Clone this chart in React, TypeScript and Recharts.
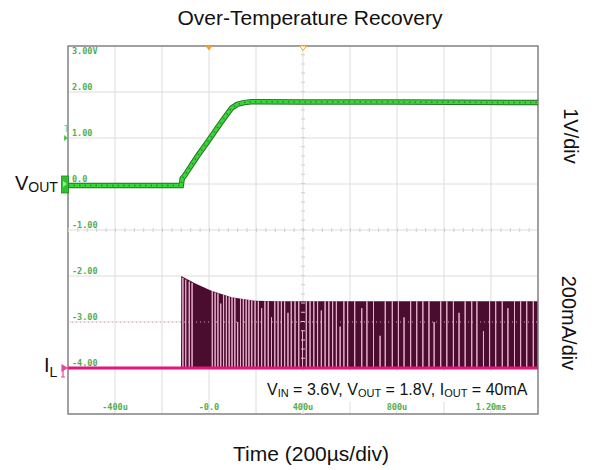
import React from "react";
import {
  ComposedChart,
  Line,
  Area,
  XAxis,
  YAxis,
  CartesianGrid,
  ReferenceArea,
  ReferenceDot,
  ReferenceLine,
} from "recharts";

// scope screen: time in µs (200µs/div), vertical in divisions (scope labels)
const xTicks = [-600, -400, -200, 0, 200, 400, 600, 800, 1000, 1200, 1400];
const yTicks = [-5, -4, -3, -2, -1, 0, 1, 2, 3];
const xTickLabels: Record<string, string> = {
  "-400": "-400u",
  "0": "-0.0",
  "400": "400u",
  "800": "800u",
  "1200": "1.20ms",
};
const yTickLabels: Record<string, string> = {
  "3": "3.00V",
  "2": "2.00",
  "1": "1.00",
  "0": "0.0",
  "-1": "-1.00",
  "-2": "-2.00",
  "-3": "-3.00",
  "-4": "-4.00",
};

// VOUT trace
const voutTime = [-600, -118, -114, -104, -50, 0, 50, 96, 120, 150, 180, 400, 800, 1400];
const voutLevel = [-0.03, -0.03, 0.12, 0.18, 0.6, 0.96, 1.33, 1.65, 1.73, 1.77, 1.79, 1.78, 1.78, 1.77];

// IL burst envelope (ground at -4 div)
const ilBase = -4;
const ilEnvTime = [-119, -118, -60, 10, 96, 195, 300, 1400];
const ilEnvTop = [-4, -2.0, -2.16, -2.32, -2.46, -2.54, -2.55, -2.55];

// lighter switching pulses seen inside the burst
const ilPulseTime = [
  -111, -99, -84, -72, 14, 26, 38, 50, 62, 74, 86, 98, 110, 122, 134, 146, 158, 170, 182, 196,
  210, 224, 238, 252, 266, 280, 294, 308, 322, 336, 350, 366, 382, 398, 414, 430, 446, 462, 478,
  494, 510, 526, 542, 558, 574, 590, 620, 650, 672, 700, 728, 750, 780, 806, 830, 858, 884, 910,
  936, 958, 986, 1012, 1040, 1064, 1090, 1118, 1140, 1168, 1194, 1220, 1248, 1272, 1300, 1326,
  1352, 1380,
];
const ilPulseTop = [
  -2.04, -2.08, -2.12, -2.15, -2.33, -2.36, -2.38, -2.6, -2.41, -2.43, -2.45, -2.46, -2.48, -3.0,
  -2.49, -2.5, -2.51, -2.52, -2.53, -2.54, -2.55, -2.7, -2.55, -2.55, -2.9, -2.55, -2.55, -2.55,
  -2.55, -2.8, -2.55, -2.55, -2.55, -3.2, -2.55, -2.55, -2.55, -2.55, -2.75, -2.55, -2.55, -2.55,
  -2.55, -3.1, -2.55, -2.55, -2.55, -2.7, -2.55, -2.55, -3.3, -2.55, -2.55, -2.55, -2.9, -2.55,
  -2.55, -2.55, -2.55, -3.0, -2.55, -2.55, -2.55, -2.8, -2.55, -2.55, -2.55, -3.2, -2.55, -2.55,
  -2.55, -2.7, -2.55, -2.55, -2.55, -2.55,
];

const voutData = voutTime.map((t, i) => ({ t, v: voutLevel[i] }));
const ilAreaData = ilEnvTime.map((t, i) => ({ t, range: [ilBase, ilEnvTop[i]] }));
const ilPulseData = ilPulseTime.flatMap((t, i) => [
  { t, v: ilBase },
  { t, v: ilPulseTop[i] },
  { t, v: ilBase },
]);
const ilBaseData = [
  { t: -600, v: ilBase },
  { t: 1400, v: ilBase },
];

const scopeGreen = "#4fae4f";
const monoFont = "'DejaVu Sans Mono', monospace";

const TimeTick = (props: any) => {
  const { x, y, payload } = props;
  const label = xTickLabels[String(payload.value)];
  if (!label) return <g />;
  return (
    <text x={x} y={y - 2.5} textAnchor="middle" fontSize={8.5} fontWeight={600} fontFamily={monoFont} fill={scopeGreen}>
      {label}
    </text>
  );
};

const LevelTick = (props: any) => {
  const { x, y, payload } = props;
  const label = yTickLabels[String(payload.value)];
  if (!label) return <g />;
  const dy = payload.value === 3 ? 8 : -2;
  return (
    <text x={x + 2} y={y + dy} textAnchor="start" fontSize={8.5} fontWeight={600} fontFamily={monoFont} fill={scopeGreen}>
      {label}
    </text>
  );
};

export default function App() {
  return (
    <div
      style={{
        position: "relative",
        width: 597,
        height: 470,
        background: "#fff",
        fontFamily: "'Liberation Sans', Arial, sans-serif",
        color: "#111",
      }}
    >
      <style>{"body{margin:0}"}</style>
      <ComposedChart width={597} height={470} margin={{ top: 46, right: 59, bottom: 56, left: 68 }}>
        <CartesianGrid stroke="#dcdcdc" />
        <XAxis
          type="number"
          dataKey="t"
          domain={[-600, 1400]}
          ticks={xTicks}
          interval={0}
          allowDataOverflow
          mirror
          height={1}
          axisLine={false}
          tickLine={false}
          tickSize={0}
          tick={TimeTick}
        />
        <YAxis
          type="number"
          domain={[-5, 3]}
          ticks={yTicks}
          interval={0}
          allowDataOverflow
          mirror
          width={1}
          axisLine={false}
          tickLine={false}
          tickSize={0}
          tick={LevelTick}
        />
        <ReferenceLine x={400} stroke="#cfcfcf" strokeWidth={4} strokeDasharray="1 8.2" />
        <ReferenceLine y={-1} stroke="#cfcfcf" strokeWidth={4} strokeDasharray="1 8.4" />
        <Area
          data={ilAreaData}
          dataKey="range"
          type="linear"
          stroke="none"
          fill="#4b0d2f"
          fillOpacity={1}
          isAnimationActive={false}
        />
        <Line
          data={ilPulseData}
          dataKey="v"
          type="linear"
          stroke="#e9b0cd"
          strokeWidth={1}
          dot={false}
          isAnimationActive={false}
        />
        <ReferenceLine y={-3} stroke="#c9a3b8" strokeDasharray="1 3" />
        <Line
          data={ilBaseData}
          dataKey="v"
          type="linear"
          stroke="#e4157f"
          strokeWidth={3}
          dot={false}
          isAnimationActive={false}
        />
        <Line
          data={voutData}
          dataKey="v"
          type="linear"
          stroke="#2c6e2c"
          strokeWidth={5.5}
          dot={false}
          isAnimationActive={false}
        />
        <Line
          data={voutData}
          dataKey="v"
          type="linear"
          stroke="#36d836"
          strokeWidth={3.5}
          dot={false}
          isAnimationActive={false}
        />
        <Line
          data={voutData}
          dataKey="v"
          type="linear"
          stroke="#1d5a1d"
          strokeOpacity={0.6}
          strokeWidth={1.5}
          strokeDasharray="1.5 4"
          dot={false}
          isAnimationActive={false}
        />
        <ReferenceArea x1={-600} x2={1400} y1={-5} y2={3} fill="none" stroke="#868686" strokeWidth={1.5} />
        <ReferenceDot
          x={-600}
          y={0}
          r={0}
          shape={(p: any) => (
            <g>
              <rect x={p.cx - 6.5} y={p.cy - 8} width={7} height={17} fill="#2ec22e" stroke="#1f8a1f" strokeWidth={0.8} />
              <path d={`M${p.cx - 5} ${p.cy - 3} L${p.cx - 1} ${p.cy} L${p.cx - 5} ${p.cy + 3} Z`} fill="#9cf09c" />
            </g>
          )}
        />
        <ReferenceDot
          x={-600}
          y={1}
          r={0}
          shape={(p: any) => (
            <g>
              <text x={p.cx - 4} y={p.cy - 6} fontSize={8} fontFamily={monoFont} fill="#5fd35f">
                T
              </text>
              <path d={`M${p.cx - 4} ${p.cy - 3} L${p.cx} ${p.cy} L${p.cx - 4} ${p.cy + 3} Z`} fill="#4cc94c" />
            </g>
          )}
        />
        <ReferenceDot
          x={-600}
          y={ilBase}
          r={0}
          shape={(p: any) => (
            <g stroke="#e34a9d" strokeWidth={1.2} fill="none">
              <path d={`M${p.cx - 6} ${p.cy - 3} L${p.cx - 1} ${p.cy} L${p.cx - 6} ${p.cy + 3} Z`} fill="#e34a9d" />
              <path d={`M${p.cx - 5} ${p.cy} L${p.cx - 5} ${p.cy + 9} M${p.cx - 7} ${p.cy + 9} L${p.cx - 3} ${p.cy + 9}`} />
            </g>
          )}
        />
        <ReferenceDot
          x={0}
          y={3}
          r={0}
          shape={(p: any) => (
            <path d={`M${p.cx - 3.5} ${p.cy} L${p.cx + 3.5} ${p.cy} L${p.cx} ${p.cy + 4.5} Z`} fill="#f5a22a" />
          )}
        />
        <ReferenceDot
          x={400}
          y={3}
          r={0}
          shape={(p: any) => (
            <path
              d={`M${p.cx - 3.5} ${p.cy} L${p.cx + 3.5} ${p.cy} L${p.cx} ${p.cy + 4.5} Z`}
              fill="#fff"
              stroke="#f5a22a"
              strokeWidth={1}
            />
          )}
        />
      </ComposedChart>

      <div
        style={{
          position: "absolute",
          left: 310,
          top: 7,
          transform: "translateX(-50%)",
          fontSize: 21,
          lineHeight: "21px",
          whiteSpace: "nowrap",
        }}
      >
        Over-Temperature Recovery
      </div>
      <div
        style={{
          position: "absolute",
          left: 311,
          top: 443,
          transform: "translateX(-50%)",
          fontSize: 21,
          lineHeight: "21px",
          whiteSpace: "nowrap",
        }}
      >
        Time (200µs/div)
      </div>
      <div
        style={{
          position: "absolute",
          left: 571,
          top: 136,
          transform: "translate(-50%, -50%) rotate(90deg)",
          fontSize: 20,
          lineHeight: "20px",
          whiteSpace: "nowrap",
        }}
      >
        1V/div
      </div>
      <div
        style={{
          position: "absolute",
          left: 569,
          top: 323,
          transform: "translate(-50%, -50%) rotate(90deg)",
          fontSize: 20,
          lineHeight: "20px",
          whiteSpace: "nowrap",
        }}
      >
        200mA/div
      </div>
      <div style={{ position: "absolute", left: 15, top: 173, fontSize: 20, lineHeight: "20px", whiteSpace: "nowrap" }}>
        V<span style={{ fontSize: 14, verticalAlign: "-2px" }}>OUT</span>
      </div>
      <div style={{ position: "absolute", left: 44, top: 355, fontSize: 20, lineHeight: "20px", whiteSpace: "nowrap" }}>
        I<span style={{ fontSize: 14, verticalAlign: "-5px" }}>L</span>
      </div>
      <div
        style={{
          position: "absolute",
          left: 259,
          top: 371,
          width: 277,
          height: 31,
          background: "#fff",
        }}
      >
        <div
          style={{
            position: "absolute",
            left: 8,
            top: 11,
            fontSize: 16,
            lineHeight: "16px",
            whiteSpace: "nowrap",
          }}
        >
          V<span style={{ fontSize: 11, verticalAlign: "-2px" }}>IN</span> = 3.6V, V
          <span style={{ fontSize: 11, verticalAlign: "-2px" }}>OUT</span> = 1.8V, I
          <span style={{ fontSize: 11, verticalAlign: "-2px" }}>OUT</span> = 40mA
        </div>
      </div>
    </div>
  );
}
